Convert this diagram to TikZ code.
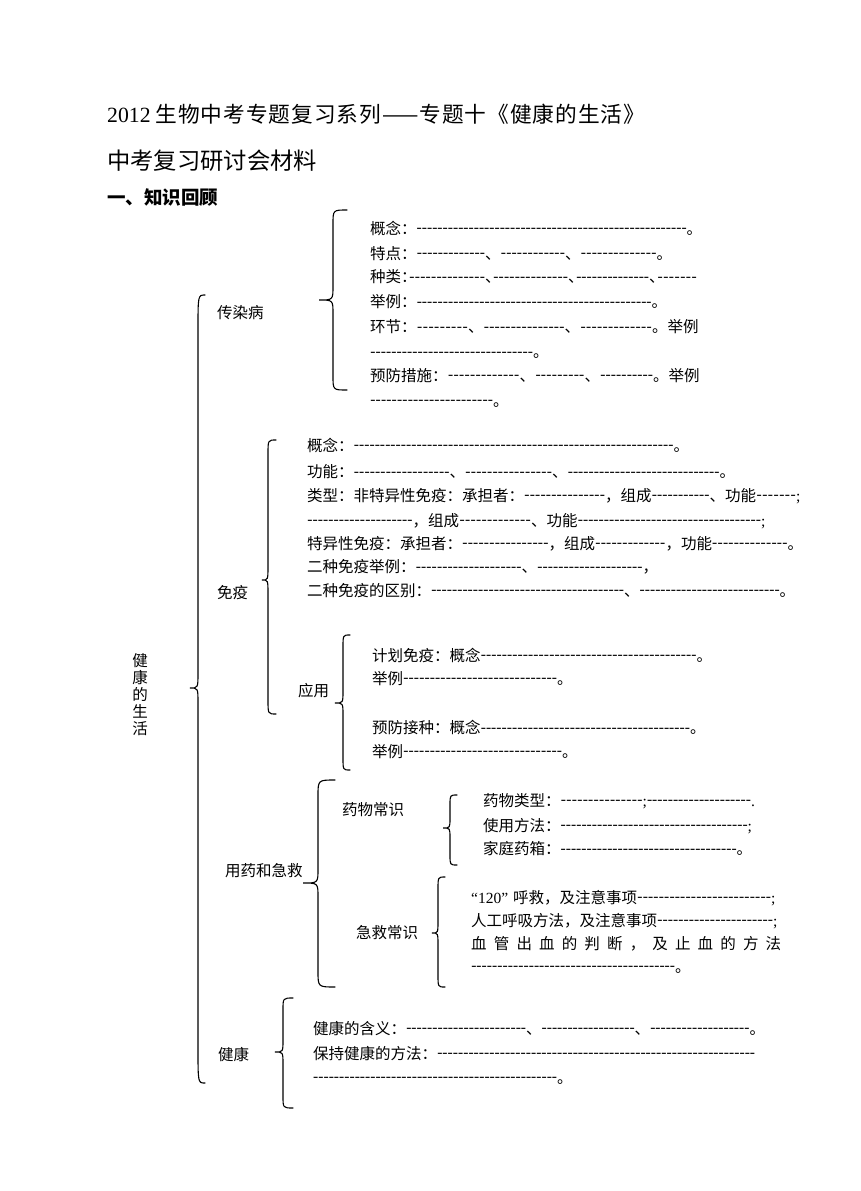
\documentclass[tikz,border=0pt]{standalone}
\usepackage{fontspec}
\setmainfont{Noto Sans CJK SC}
\newfontfamily\lat{Liberation Serif}
\newfontfamily\titlef{Noto Sans CJK SC}[LetterSpace=4.5]
\newcommand\bodyf{\fontsize{15.5}{17}\selectfont}
\newcommand\dl[1]{{\lat\xleaders\hbox{\raise1.5pt\hbox{-}}\hskip#1pt\relax\kern0pt}}
\newcommand\cp[1]{\makebox[8pt][l]{#1}}
\newcommand\cbr[8]{\draw[br] (#2,#4) .. controls (#1,#4) .. (#1,#4+#7) -- (#1,#5-#8) .. controls (#1,#5) .. (#3,#5) .. controls (#1,#5) .. (#1,#5+#8) -- (#1,#6-#7) .. controls (#1,#6) .. (#2,#6);}
\tikzset{
  ln/.style={anchor=base west, inner sep=0pt, font=\bodyf},
  br/.style={line width=1.1pt, black, line cap=round}
}
\begin{document}
\begin{tikzpicture}[x=1pt,y=-1pt]
\useasboundingbox (0,0) rectangle (860,1191);
\fill[white] (0,0) rectangle (860,1191);

% titles
\node[anchor=base west, inner sep=0pt, font=\fontsize{21.7}{24}\selectfont] (title) at (107,122.2) {{\lat 2012} {\titlef 生物中考专题复习系列——专题十《健康的生活》}};
\node[anchor=base west, inner sep=0pt, font=\fontsize{23.3}{26}\selectfont] (sub) at (107,169.8) {中考复习研讨会材料};
\node[anchor=base west, inner sep=0pt, font=\fontsize{18.5}{20}\selectfont\bfseries] (head) at (107,204) {一、知识回顾};

% vertical root label
\node[font=\bodyf, align=center, inner sep=0pt] (root) at (140,695) {健\\康\\的\\生\\活};

% braces
\cbr{198}{205}{190}{295}{688}{1083}{35}{15}
\cbr{333}{347}{319}{210}{300}{390}{14}{14}
\cbr{268}{276}{262}{440}{580}{714}{14}{14}
\cbr{343}{350}{335}{635}{703}{770}{12}{12}
\cbr{318}{335}{303}{780}{883}{987}{16}{14}
\cbr{450}{457}{443}{795}{828}{865}{10}{10}
\cbr{438}{445}{432}{877}{933}{987}{12}{12}
\cbr{283}{293}{275}{998}{1052}{1108}{12}{12}

% branch labels
\node[ln] (crb) at (217,318) {传染病};
\node[ln] (my) at (217,598) {免疫};
\node[ln] (yy) at (298,696) {应用};
\node[ln] (yyjj) at (225,876) {用药和急救};
\node[ln] (ywcs) at (342,815) {药物常识};
\node[ln] (jjcs) at (356,938) {急救常识};
\node[ln] (jk) at (218,1060) {健康};

% 传染病
\node[ln] (a1) at (370,234.3) {概念：\dl{270}。};
\node[ln] (a2) at (370,259.3) {特点：\dl{68.5}、\dl{64.5}、\dl{76}。};
\node[ln] (a3) at (370,282.7) {种类\cp{：}\dl{76}\cp{、}\dl{75}\cp{、}\dl{73}\cp{、}\dl{40}};
\node[ln] (a4) at (370,307.7) {举例：\dl{235}。};
\node[ln] (a5) at (370,332.7) {环节：\dl{51.5}、\dl{81}、\dl{72}。举例};
\node[ln] (a6) at (370,357.7) {\dl{163}。};
\node[ln] (a7) at (370,381) {预防措施：\dl{72}、\dl{49.5}、\dl{53}。举例};
\node[ln] (a8) at (370,406) {\dl{123}。};

% 免疫
\node[ln] (b1) at (307,451) {概念：\dl{320}。};
\node[ln] (b2) at (307,477.7) {功能：\dl{96}、\dl{87}、\dl{152}。};
\node[ln] (b3) at (307,501) {类型：非特异性免疫：承担者：\dl{81}，组成\dl{58}、功能\dl{40}{\lat;}};
\node[ln] (b4) at (307,526) {\dl{105.5}，组成\dl{72}、功能\dl{183.5}{\lat;}};
\node[ln] (b5) at (307,549.3) {特异性免疫：承担者：\dl{86.5}，组成\dl{70.3}，功能\dl{75.7}。};
\node[ln] (b6) at (307,572.7) {二种免疫举例：\dl{106}、\dl{105.5}，};
\node[ln] (b7) at (307,596) {二种免疫的区别：\dl{193}、\dl{140}。};

% 应用
\node[ln] (c1) at (372,661) {计划免疫：概念\dl{216}。};
\node[ln] (c2) at (372,684) {举例\dl{154}。};
\node[ln] (c3) at (372,733.5) {预防接种：概念\dl{209.5}。};
\node[ln] (c4) at (372,757) {举例\dl{159}。};

% 药物常识
\node[ln] (d1) at (483,806) {药物类型：\dl{82}{\lat;}\dl{104}{\lat.}};
\node[ln] (d2) at (483,831) {使用方法：\dl{187}{\lat;}};
\node[ln] (d3) at (483,854.5) {家庭药箱：\dl{176}。};

% 急救常识
\node[ln] (e1) at (471,903) {{\lat “120”}\hspace{5pt}呼救，及注意事项\dl{134}{\lat;}};
\node[ln] (e2) at (471,926) {人工呼吸方法，及注意事项\dl{116}{\lat;}};
\node[ln] (e3) at (471,949) {\hbox to 310pt{血\hfill 管\hfill 出\hfill 血\hfill 的\hfill 判\hfill 断\hfill ，\hfill 及\hfill 止\hfill 血\hfill 的\hfill 方\hfill 法}};
\node[ln] (e4) at (471,972) {\dl{204}。};

% 健康
\node[ln] (f1) at (313,1034) {健康的含义：\dl{120}、\dl{93}、\dl{99.5}。};
\node[ln] (f2) at (313,1059) {保持健康的方法：\dl{318}};
\node[ln] (f3) at (313,1083) {\dl{244}。};
\end{tikzpicture}
\end{document}
